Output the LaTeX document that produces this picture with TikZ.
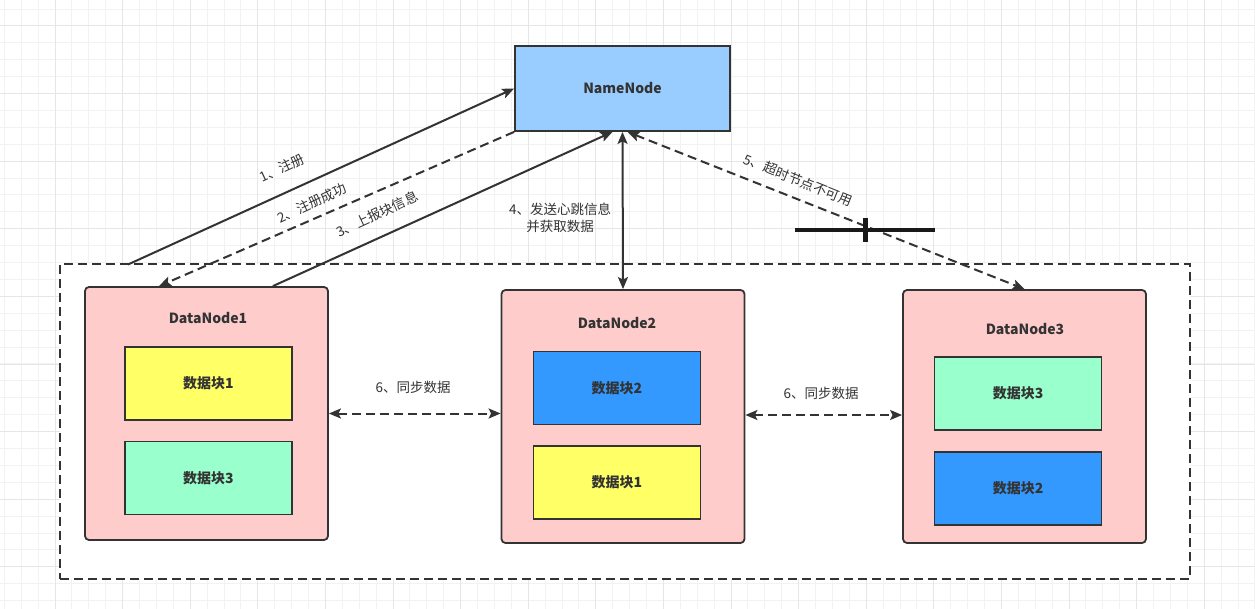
\documentclass[tikz,border=0pt]{standalone}
\usepackage{fontspec}
\setmainfont{Noto Sans CJK SC}
\usetikzlibrary{arrows.meta}
\definecolor{ink}{HTML}{333333}
\definecolor{nnblue}{HTML}{99CCFF}
\definecolor{dnpink}{HTML}{FFCCCC}
\definecolor{blkyellow}{HTML}{FFFF66}
\definecolor{blkgreen}{HTML}{99FFCC}
\definecolor{blkblue}{HTML}{3399FF}
\definecolor{gridminor}{HTML}{F2F2F2}
\definecolor{gridmajor}{HTML}{E6E6E6}
\begin{document}
\begin{tikzpicture}[x=1pt,y=-1pt,
	box/.style={draw=ink,line width=1.8pt,inner sep=0pt,font=\bfseries\fontsize{14}{16}\selectfont,text=ink},
	datanode/.style={box,fill=dnpink,rounded corners=4pt,minimum width=243pt,minimum height=253pt},
	block/.style={box,minimum width=167pt,minimum height=73pt},
	lbl/.style={text=ink,font=\fontsize{13.5}{17}\selectfont,inner sep=0pt},
	tip/.style={Stealth[length=12pt,width=10pt,inset=2.5pt]},
	link/.style={draw=ink,line width=2pt,-{Stealth[length=12pt,width=10pt,inset=2.5pt]}},
	twoway/.style={link,{Stealth[length=12pt,width=10pt,inset=2.5pt]}-{Stealth[length=12pt,width=10pt,inset=2.5pt]}},
	dashline/.style={dash pattern=on 9pt off 5pt}]
	\useasboundingbox (0,0) rectangle (1255,609);
	\fill[white] (0,0) rectangle (1255,609);
	% grid
	\foreach \i in {0,...,74} \draw[gridminor,line width=1pt] ({4.3+16.9*\i},0) -- ++(0,609);
	\foreach \j in {0,...,36} \draw[gridminor,line width=1pt] (0,{9.1+16.9*\j}) -- ++(1255,0);
	\foreach \i in {0,...,18} \draw[gridmajor,line width=1pt] ({55+67.6*\i},0) -- ++(0,609);
	\foreach \j in {0,...,9} \draw[gridmajor,line width=1pt] (0,{26+67.6*\j}) -- ++(1255,0);

	\node[draw=ink,line width=2pt,dash pattern=on 9pt off 5pt,fill=white,minimum width=1130pt,minimum height=315pt] at (625,421.5) (cluster) {}; %cluster
	\node[box,fill=nnblue,minimum width=215pt,minimum height=85pt] at (622.5,88.5) (namenode) {NameNode};

	\node[datanode] at (206.5,413.5) (dn1) {}; %datanode1
	\node[datanode] at (623,416.5) (dn2) {}; %datanode2
	\node[datanode] at (1024.5,416.5) (dn3) {}; %datanode3
	\node[box,draw=none] at (208,318) (dn1title) {DataNode1};
	\node[box,draw=none] at (617,323) (dn2title) {DataNode2};
	\node[box,draw=none] at (1025,329) (dn3title) {DataNode3};

	\node[block,fill=blkyellow] at (208.5,383.5) (dn1blk1) {数据块1};
	\node[block,fill=blkgreen] at (208.5,478) (dn1blk3) {数据块3};
	\node[block,fill=blkblue] at (617,388) (dn2blk2) {数据块2};
	\node[block,fill=blkyellow] at (617,482.5) (dn2blk1) {数据块1};
	\node[block,fill=blkgreen] at (1018,393.5) (dn3blk3) {数据块3};
	\node[block,fill=blkblue] at (1018,488.5) (dn3blk2) {数据块2};

	\coordinate (regstart) at (128,264.5);
	\draw[link] (regstart) -- (namenode.west); %register
	\draw[link,dashline] (namenode.south west) -- ([xshift=75pt]dn1.north west); %register ok
	\draw[link] ([xshift=-56pt]dn1.north east) -- ([xshift=-10pt]namenode.south); %block report
	\draw[twoway] (namenode.south) -- (dn2.north); %heartbeat
	\draw[twoway,dashline] ([xshift=5pt]namenode.south) -- (dn3.north); %timeout
	\draw[twoway,dashline] (dn1.east) -- (dn1.east -| dn2.west); %sync1
	\draw[twoway,dashline] ([yshift=1.5pt]dn2.east) -- ([yshift=1.5pt]dn2.east -| dn3.west); %sync2

	% cross mark
	\draw[black!90,line width=4.5pt] (795,230) -- (935,230);
	\draw[black!90,line width=5pt] (865,218) -- (865,242);

	\node[lbl,rotate=25] at (282,168) (l1) {1、注册};
	\node[lbl,rotate=25] at (312,203) (l2) {2、注册成功};
	\node[lbl,rotate=25] at (377,214) (l3) {3、上报块信息};
	\node[lbl,align=center] at (560,218) (l4) {4、发送心跳信息\\并获取数据};
	\node[lbl,rotate=-22] at (798,180) (l5) {5、超时节点不可用};
	\node[lbl] at (413,387) (l6a) {6、同步数据};
	\node[lbl] at (821,393) (l6b) {6、同步数据};
\end{tikzpicture}
\end{document}
